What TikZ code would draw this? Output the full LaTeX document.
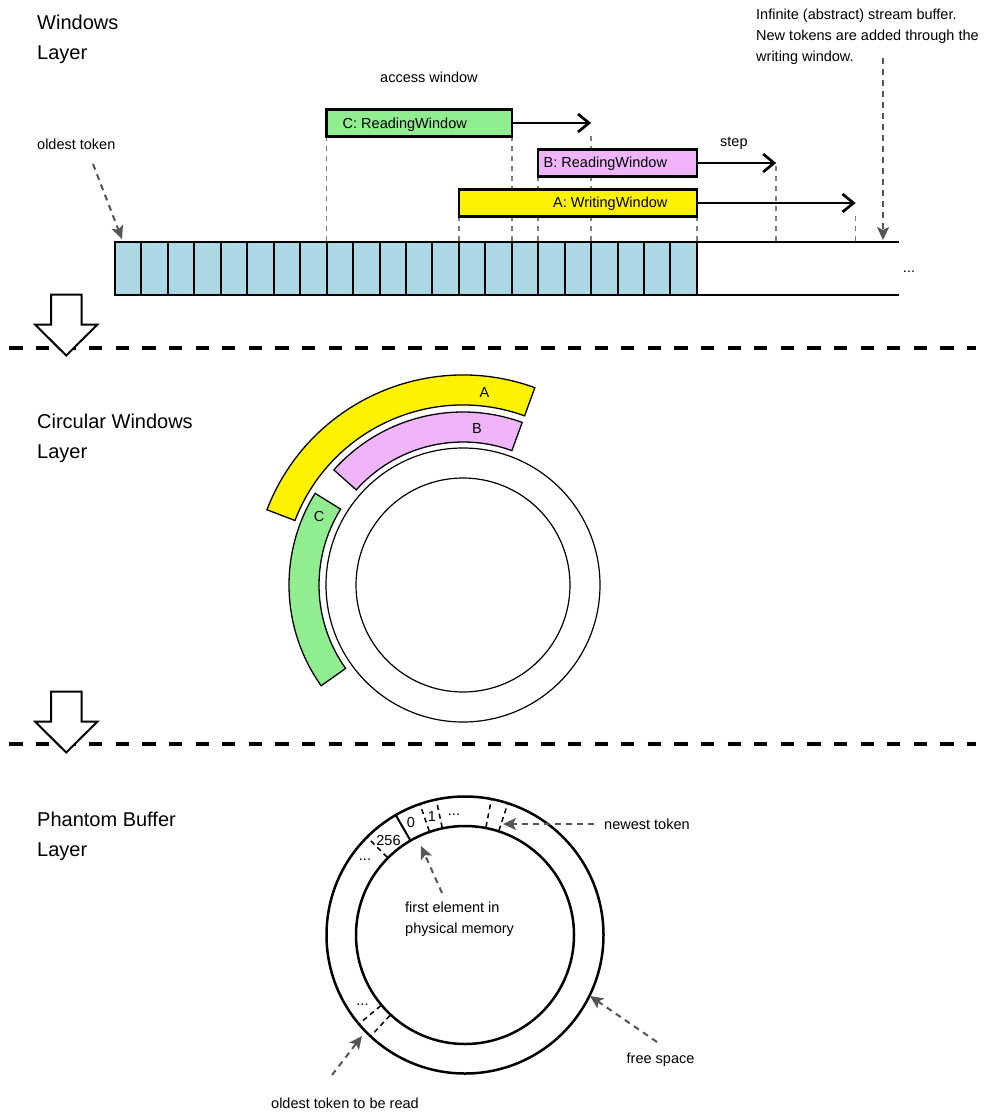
\documentclass[tikz,border=0pt]{standalone}
\usepackage{fontspec}
\setmainfont{Liberation Sans}
\usetikzlibrary{arrows.meta,calc}
\definecolor{cellblue}{RGB}{173,216,230}
\definecolor{lgreen}{RGB}{144,238,144}
\definecolor{lviolet}{RGB}{240,180,250}
\definecolor{guidegray}{RGB}{128,128,128}
\definecolor{ptrgray}{RGB}{85,85,85}
\begin{document}
\begin{tikzpicture}[x=1pt,y=-1pt,
  title/.style={anchor=base west,inner sep=0pt,font=\fontsize{20}{24}\selectfont},
  lbl/.style={anchor=base west,inner sep=0pt,font=\fontsize{14.5}{17}\selectfont},
  clbl/.style={anchor=center,inner sep=0pt,font=\fontsize{14.5}{17}\selectfont},
  dots/.style={anchor=base,inner sep=0pt,font=\fontsize{14.5}{17}\selectfont},
  cell/.style={draw=black,line width=2pt,fill=cellblue},
  win/.style={draw=black,line width=2.5pt,inner sep=0pt,outer sep=0pt,anchor=north west,minimum height=27pt},
  guide/.style={draw=guidegray,line width=1.6pt,dash pattern=on 5pt off 5pt},
  steparrow/.style={draw=black,line width=2.5pt,-{Straight Barb[length=11pt,width=18pt,line width=2.7pt]}},
  pointer/.style={draw=ptrgray,line width=2pt,dash pattern=on 6pt off 5pt,-{Stealth[length=13pt,width=12pt,inset=3pt]}},
  sepline/.style={line width=3.3pt,dash pattern=on 13.3pt off 13.3pt},
  blockarrow/.style={draw=black,line width=2pt,fill=white,line join=miter},
  sector/.style={draw=black,line width=1.3pt},
  thinring/.style={draw=black,line width=1.2pt},
  thickring/.style={draw=black,line width=2.5pt},
  ringdash/.style={draw=black,line width=1.5pt,dash pattern=on 5pt off 4pt},
]
\useasboundingbox (0,0) rectangle (987,1115);

% ---------------- Windows layer ----------------
\node[title] (t1a) at (37,30) {Windows};
\node[title] (t1b) at (37,60) {Layer};

\foreach \i in {0,...,29} \coordinate (g\i) at ({115+\i*26.45},241.5);
\coordinate (lineend) at (899,241.5);
\coordinate (lineendb) at (899,294.5);

% guides (behind windows)
\draw[guide] (g8 |- 0,136.5) -- (g8);
\draw[guide] (g15 |- 0,136.5) -- (g15);
\draw[guide] (g18 |- 0,136.5) -- (g18);
\draw[guide] (g16 |- 0,176.5) -- (g16);
\draw[guide] (g25 |- 0,166) -- (g25);
\draw[guide] (g13 |- 0,216.5) -- (g13);
\draw[guide] (g22 |- 0,216.5) -- (g22);
\draw[guide] (g28 |- 0,216.5) -- (g28);

% windows
\node[win,fill=lgreen,minimum width=185.15pt] (C) at (g8 |- 0,109.5) {};
\node[win,fill=lviolet,minimum width=158.7pt] (B) at (g16 |- 0,149.5) {};
\node[win,fill=yellow,minimum width=238.05pt] (A) at (g13 |- 0,189.5) {};
\node[lbl] (Ct) at (342.5,128.5) {C: ReadingWindow};
\node[lbl] (Bt) at (543.5,168) {B: ReadingWindow};
\node[lbl] (At) at (553,208) {A: WritingWindow};

\draw[steparrow] (C.east) -- (g18 |- C.east);
\draw[steparrow] (B.east) -- (g25 |- B.east);
\draw[steparrow] (A.east) -- (g28 |- A.east);

% cells
\foreach \i [evaluate=\i as \j using int(\i+1)] in {0,...,21}
  \draw[cell] (g\i) rectangle ($(g\j)+(0,53)$);
\draw[line width=2pt] (g22) -- (lineend);
\draw[line width=2pt] ($(g22)+(0,53)$) -- (lineendb);
\node[dots] (rdots) at (909,272) {...};

\node[lbl] (aw) at (380,82.5) {access window};
\node[lbl] (st) at (720,146.5) {step};
\node[lbl] (ot) at (37,150) {oldest token};
\node[lbl] (inf1) at (756,19.5) {Infinite (abstract) stream buffer.};
\node[lbl] (inf2) at (756,40.5) {New tokens are added through the};
\node[lbl] (inf3) at (756,62) {writing window.};

\coordinate (otS) at (93,164);
\coordinate (otE) at (122,239);
\draw[pointer] (otS) -- (otE);
\coordinate (infS) at (883,58);
\coordinate (infE) at (883,240);
\draw[pointer] (infS) -- (infE);

% separator 1 + block arrow
\coordinate (s1a) at (9.3,348);
\coordinate (s1b) at (976,348);
\draw[sepline] (s1a) -- (s1b);
\draw[blockarrow] (51,294.5) -- (81.5,294.5) -- (81.5,324.5) -- (97.5,324.5) -- (66.2,355.5) -- (35,324.5) -- (51,324.5) -- cycle;

% ---------------- Circular windows layer ----------------
\node[title] (t2a) at (37,428) {Circular Windows};
\node[title] (t2b) at (37,458) {Layer};

\coordinate (mc) at (463,585);
\draw[thinring] (mc) circle[radius=137];
\draw[thinring] (mc) circle[radius=107];

\draw[sector,fill=yellow] ($(mc)+(-70:210)$) arc[start angle=-70,end angle=-159,radius=210]
  -- ($(mc)+(-159:180)$) arc[start angle=-159,end angle=-70,radius=180] -- cycle;
\draw[sector,fill=lviolet] ($(mc)+(-70:173)$) arc[start angle=-70,end angle=-138.3,radius=173]
  -- ($(mc)+(-138.3:143)$) arc[start angle=-138.3,end angle=-70,radius=143] -- cycle;
\draw[sector,fill=lgreen] ($(mc)+(-148.2:174)$) arc[start angle=-148.2,end angle=-215.4,radius=174]
  -- ($(mc)+(-215.4:144)$) arc[start angle=-215.4,end angle=-148.2,radius=144] -- cycle;
\node[clbl] (la) at (484.5,393) {A};
\node[clbl] (lb) at (477,429) {B};
\node[clbl] (lc) at (319,517) {C};

% separator 2 + block arrow
\coordinate (s2a) at (9.3,744);
\coordinate (s2b) at (976,744);
\draw[sepline] (s2a) -- (s2b);
\draw[blockarrow] (51,691.5) -- (81.5,691.5) -- (81.5,721.5) -- (97.5,721.5) -- (66.2,752.5) -- (35,721.5) -- (51,721.5) -- cycle;

% ---------------- Phantom buffer layer ----------------
\node[title] (t3a) at (37,826) {Phantom Buffer};
\node[title] (t3b) at (37,856) {Layer};

\coordinate (pc) at (465,935);
\draw[thickring] (pc) circle[radius=138.5];
\draw[thickring] (pc) circle[radius=109];
\draw[line width=2pt] ($(pc)+(-120:109)$) -- ($(pc)+(-120:138.5)$);
\foreach \a in {135,109,102,79,72,220,227}
  \draw[ringdash] ($(pc)+(-\a:110)$) -- ($(pc)+(-\a:137.5)$);

\node[clbl] (z0) at (411,822) {0};
\node[clbl] (z1) at (432,817) {1};
\node[clbl] (z256) at (388.5,840) {256};
\node[dots] (d1) at (454,815) {...};
\node[dots] (d2) at (365,860) {...};
\node[dots] (d3) at (362.5,1005) {...};

\node[lbl] (nt) at (604,829.5) {newest token};
\node[lbl] (fe1) at (405,912) {first element in};
\node[lbl] (fe2) at (405,933) {physical memory};
\node[lbl] (fs) at (626.5,1063.5) {free space};
\node[lbl] (ob) at (271,1108.5) {oldest token to be read};

\coordinate (ntS) at (594,824);
\coordinate (ntE) at (503,824);
\draw[pointer] (ntS) -- (ntE);
\coordinate (feS) at (442,893);
\coordinate (feE) at (421,846);
\draw[pointer] (feS) -- (feE);
\coordinate (fsS) at (657,1042);
\coordinate (fsE) at (590,996);
\draw[pointer] (fsS) -- (fsE);
\coordinate (obS) at (332,1075);
\coordinate (obE) at (362,1036);
\draw[pointer] (obS) -- (obE);

\end{tikzpicture}
\end{document}
